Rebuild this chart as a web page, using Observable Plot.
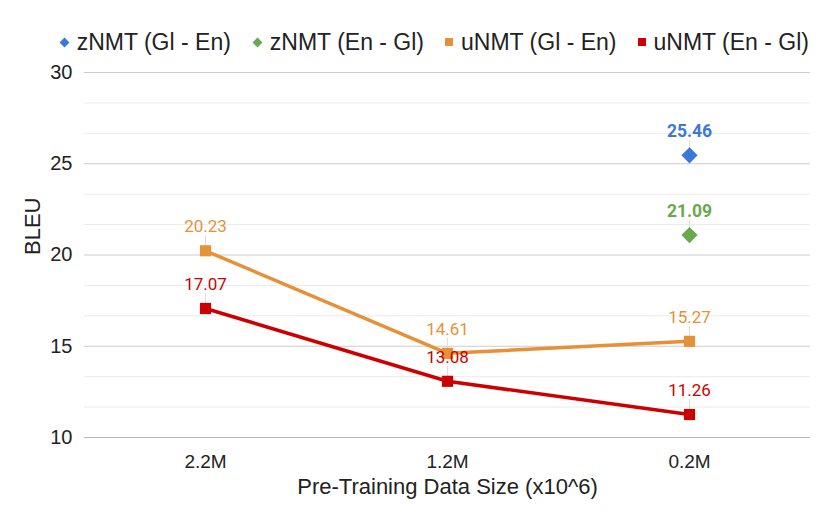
<!DOCTYPE html>
<html>
<head>
<meta charset="utf-8">
<script src="https://cdn.jsdelivr.net/npm/d3@7"></script>
<script src="https://cdn.jsdelivr.net/npm/@observablehq/plot@0.6"></script>
<style>
  body { margin: 0; background: #fff; font-family: "Liberation Sans", Arial, sans-serif; }
  #legend { height: 60px; display: flex; justify-content: flex-end; align-items: center; padding-right: 21px; box-sizing: border-box; padding-top: 24px; font-size: 23px; color: #222; white-space: nowrap; }
  .item { display: flex; align-items: center; margin-left: 21px; }
  .sw { display: inline-block; margin-right: 8px; }
</style>
</head>
<body>
<div id="legend"></div>
<div id="chart"></div>
<script>
const categories = ["2.2M", "1.2M", "0.2M"];
const seriesNames = ["zNMT (Gl - En)", "zNMT (En - Gl)", "uNMT (Gl - En)", "uNMT (En - Gl)"];
const seriesColors = ["#3c78d8", "#6aa84f", "#e69138", "#cc0000"];
const seriesSymbols = ["diamond2", "diamond2", "square", "square"];
const zGlEn = [null, null, 25.46];
const zEnGl = [null, null, 21.09];
const uGlEn = [20.23, 14.61, 15.27];
const uEnGl = [17.07, 13.08, 11.26];
const yTicks = [10, 15, 20, 25, 30];
const yMinor = [11.667, 13.333, 16.667, 18.333, 21.667, 23.333, 26.667, 28.333];

const allSeries = [zGlEn, zEnGl, uGlEn, uEnGl];
const data = [];
allSeries.forEach((vals, si) => vals.forEach((v, i) => {
  if (v != null) data.push({series: seriesNames[si], si, cat: categories[i], value: v});
}));
const lineData = data.filter(d => d.si >= 2);
const pointData = data.filter(d => d.si < 2);

// legend
const lg = document.getElementById("legend");
seriesNames.forEach((n, i) => {
  const it = document.createElement("div");
  it.className = "item";
  const sw = document.createElement("span");
  sw.className = "sw";
  if (seriesSymbols[i] === "diamond2") {
    sw.style.cssText = `width:7px;height:7px;background:${seriesColors[i]};transform:rotate(45deg);margin-left:2px;margin-right:9px;`;
  } else {
    sw.style.cssText = `width:8px;height:8px;background:${seriesColors[i]};`;
  }
  it.appendChild(sw);
  it.appendChild(document.createTextNode(n));
  lg.appendChild(it);
});

const color = {domain: seriesNames, range: seriesColors};

const chart = Plot.plot({
  width: 830,
  height: 453,
  marginTop: 12,
  marginLeft: 84,
  marginRight: 20,
  marginBottom: 76,
  style: {fontFamily: "'Liberation Sans', Arial, sans-serif", fontSize: "20px", color: "#222", background: "#fff"},
  x: {type: "point", domain: categories, padding: 0.5, label: null},
  y: {domain: [10, 30], ticks: yTicks, label: null},
  color,
  symbol: {domain: seriesNames, range: seriesSymbols},
  marks: [
    Plot.ruleY(yMinor, {stroke: "#ebebeb", strokeWidth: 1}),
    Plot.ruleY(yTicks.slice(1), {stroke: "#cccccc", strokeWidth: 1}),
    Plot.ruleY([10], {stroke: "#b7b7b7", strokeWidth: 1.2}),
    Plot.axisY({ticks: yTicks, tickSize: 0, tickPadding: 12, fontSize: 20, fill: "#222"}),
    Plot.axisX({tickSize: 0, tickPadding: 17, fontSize: 19, fill: "#222"}),
    Plot.text(["BLEU"], {frameAnchor: "left", dx: -52, rotate: -90, fontSize: 22, fill: "#222"}),
    Plot.text(["Pre-Training Data Size (x10^6)"], {frameAnchor: "bottom", dy: 56, fontSize: 22, fill: "#222"}),
    Plot.ruleX(data, {x: "cat", y1: "value", y2: "value", insetTop: -15, stroke: "#dddddd", strokeWidth: 1}),
    Plot.line(lineData, {x: "cat", y: "value", z: "series", stroke: "series", strokeWidth: 3.5}),
    Plot.dot(pointData, {x: "cat", y: "value", fill: "series", symbol: "series", r: 7.3}),
    Plot.dot(lineData, {x: "cat", y: "value", fill: "series", symbol: "series", r: 6.3}),
    Plot.text(pointData, {x: "cat", y: "value", text: d => d.value.toFixed(2), fill: "series", dy: -24, fontSize: 17.5, fontFamily: "Roboto, sans-serif", fontWeight: "bold"}),
    Plot.text(lineData, {x: "cat", y: "value", text: d => d.value.toFixed(2), fill: "series", dy: -24, fontSize: 17, fontFamily: "Roboto, sans-serif"})
  ]
});
document.getElementById("chart").appendChild(chart);
</script>
</body>
</html>
